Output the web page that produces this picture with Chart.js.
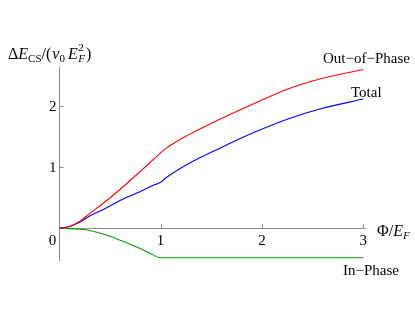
<!DOCTYPE html>
<html>
<head>
<meta charset="utf-8">
<script src="https://cdn.jsdelivr.net/npm/chart.js@4/dist/chart.umd.min.js"></script>
<style>
html,body{margin:0;padding:0;background:#fff;}
canvas{display:block;}
</style>
</head>
<body>
<canvas id="c" width="415" height="312"></canvas>
<script>
// ---- data ----
const outX   = [0, 0.1, 0.2, 0.3, 0.45, 0.61, 0.8, 0.94, 1.0, 1.05, 1.27, 1.6, 1.93, 2.25, 2.58, 3.0];
const outY   = [0, 0.03, 0.11, 0.24, 0.43, 0.65, 0.93, 1.14, 1.23, 1.30, 1.52, 1.79, 2.04, 2.27, 2.44, 2.59];
const totalX = [0, 0.1, 0.2, 0.3, 0.45, 0.61, 0.8, 0.94, 1.0, 1.05, 1.27, 1.6, 1.93, 2.25, 2.58, 3.0];
const totalY = [0, 0.03, 0.1, 0.2, 0.32, 0.46, 0.6, 0.71, 0.75, 0.82, 1.05, 1.32, 1.57, 1.78, 1.95, 2.11];
const inX    = [0, 0.1, 0.2, 0.3, 0.45, 0.61, 0.77, 0.9, 1.0, 2.0, 3.0];
const inY    = [0, -0.005, -0.015, -0.035, -0.10, -0.20, -0.31, -0.41, -0.48, -0.48, -0.48];
const xTicks = [1, 2, 3];
const yTicks = [1, 2];
const originLabel = '0';
const seriesNames = ['Out\u2212of\u2212Phase', 'Total', 'In\u2212Phase'];

const toPts = (xs, ys) => xs.map((x, i) => ({x: x, y: ys[i]}));

const SERIF = '"Liberation Serif", "DejaVu Serif", serif';
const AXIS_COLOR = '#8a8a8a';

const axesPlugin = {
  id: 'mathAxes',
  beforeDatasetsDraw(chart) {
    const ctx = chart.ctx, xs = chart.scales.x, ys = chart.scales.y, a = chart.chartArea;
    const x0 = Math.round(xs.getPixelForValue(0)) + 0.5;
    const y0 = Math.round(ys.getPixelForValue(0)) + 0.5;
    ctx.save();
    ctx.strokeStyle = AXIS_COLOR;
    ctx.lineWidth = 1;
    ctx.beginPath();
    ctx.moveTo(a.left, y0); ctx.lineTo(a.right, y0);
    ctx.moveTo(x0, a.top); ctx.lineTo(x0, a.bottom);
    xTicks.forEach(t => {
      const px = Math.round(xs.getPixelForValue(t)) + 0.5;
      ctx.moveTo(px, y0); ctx.lineTo(px, y0 - 4);
    });
    yTicks.forEach(t => {
      const py = Math.round(ys.getPixelForValue(t)) + 0.5;
      ctx.moveTo(x0, py); ctx.lineTo(x0 + 4, py);
    });
    ctx.stroke();

    // tick labels
    ctx.fillStyle = '#000';
    ctx.font = '15px ' + SERIF;
    ctx.textAlign = 'center';
    ctx.textBaseline = 'top';
    xTicks.forEach(t => ctx.fillText(String(t), xs.getPixelForValue(t), y0 + 5));
    ctx.fillText(originLabel, x0 - 7, y0 + 5);
    ctx.textAlign = 'right';
    ctx.textBaseline = 'middle';
    yTicks.forEach(t => ctx.fillText(String(t), x0 - 3, ys.getPixelForValue(t) + 1));
    ctx.restore();
  },
  afterDraw(chart) {
    const ctx = chart.ctx;
    ctx.save();
    ctx.fillStyle = '#000';
    ctx.textBaseline = 'alphabetic';
    ctx.textAlign = 'left';
    const drawRich = (parts, x, base) => {
      let cx = x;
      parts.forEach(p => {
        ctx.font = (p.it ? 'italic ' : '') + p.size + 'px ' + SERIF;
        ctx.fillText(p.t, cx, base + (p.dy || 0));
        if (!p.noAdvance) cx += ctx.measureText(p.t).width + (p.gap || 0);
      });
    };
    // y-axis title: ΔE_CS/(ν0 E_F^2)
    drawRich([
      {t: '\u0394', size: 16},
      {t: 'E', size: 16, it: true, gap: 0},
      {t: 'CS', size: 11, dy: 3},
      {t: '/(', size: 16, gap: 1},
      {t: '\u03bd', size: 16, it: true},
      {t: '0', size: 11, dy: 3, gap: 3},
      {t: 'E', size: 16, it: true, gap: 0.5},
      {t: '2', size: 11, dy: -8, noAdvance: true},
      {t: 'F', size: 11, it: true, dy: 3, gap: 1},
      {t: ')', size: 16}
    ], 8, 59);
    // x-axis title: Φ/E_F
    drawRich([
      {t: '\u03a6', size: 16},
      {t: '/', size: 16},
      {t: 'E', size: 16, it: true, gap: 0},
      {t: 'F', size: 11, it: true, dy: 3}
    ], 377, 236);
    // series labels
    ctx.font = '15px ' + SERIF;
    ctx.fillText(seriesNames[0], 323, 63);
    ctx.fillText(seriesNames[1], 351, 97);
    ctx.fillText(seriesNames[2], 343, 275);
    ctx.restore();
  }
};

new Chart(document.getElementById('c'), {
  type: 'line',
  data: {
    datasets: [
      {label: seriesNames[0], data: toPts(outX, outY), borderColor: 'rgb(255,0,0)'},
      {label: seriesNames[1], data: toPts(totalX, totalY), borderColor: 'rgb(0,0,255)'},
      {label: seriesNames[2], data: toPts(inX, inY), borderColor: 'rgb(0,160,0)'}
    ]
  },
  options: {
    responsive: false,
    animation: false,
    devicePixelRatio: 1,
    layout: {padding: {left: 59.3, right: 49.2, top: 66.7, bottom: 51}},
    elements: {
      line: {borderWidth: 1.1, tension: 0.4, cubicInterpolationMode: 'monotone', fill: false},
      point: {radius: 0}
    },
    plugins: {legend: {display: false}, tooltip: {enabled: false}},
    scales: {
      x: {type: 'linear', min: 0, max: 3.025, display: false},
      y: {type: 'linear', min: -0.533, max: 2.636, display: false}
    }
  },
  plugins: [axesPlugin]
});
</script>
</body>
</html>
